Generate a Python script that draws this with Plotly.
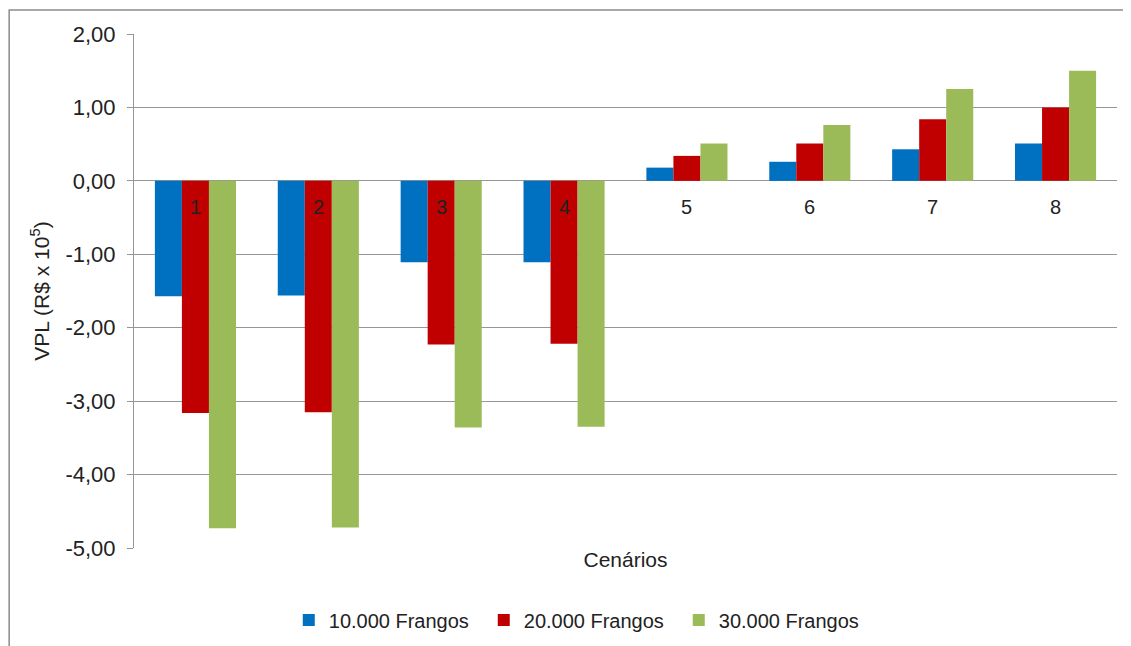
import plotly.graph_objects as go

categories = ["1", "2", "3", "4", "5", "6", "7", "8"]
series_names = ["10.000 Frangos", "20.000 Frangos", "30.000 Frangos"]
v10 = [-1.57, -1.56, -1.11, -1.11, 0.18, 0.26, 0.43, 0.51]
v20 = [-3.16, -3.15, -2.23, -2.22, 0.34, 0.51, 0.84, 1.00]
v30 = [-4.73, -4.72, -3.36, -3.35, 0.51, 0.76, 1.25, 1.50]
colors = ["#0070C0", "#C00000", "#9BBB59"]
y_ticks = [2, 1, 0, -1, -2, -3, -4, -5]
y_ticktext = [f"{v:.2f}".replace(".", ",") for v in y_ticks]

fig = go.Figure()
for name, vals, c in zip(series_names, [v10, v20, v30], colors):
    fig.add_trace(go.Bar(x=categories, y=vals, name=name, marker_color=c,
                         marker_line_width=0))

for i, cat in enumerate(categories):
    fig.add_annotation(x=i, y=0, text=cat, showarrow=False, yshift=-26,
                       font=dict(size=20, color="#222"))

FONT = "Liberation Sans, Arial, sans-serif"
fig.update_layout(
    width=1131, height=646,
    margin=dict(l=126, r=22, t=26, b=106),
    paper_bgcolor="white", plot_bgcolor="white",
    barmode="group", bargap=0.34, bargroupgap=0,
    font=dict(family=FONT, size=20, color="#222"),
    showlegend=True,
    legend=dict(orientation="h", x=0.455, xanchor="center", y=-0.14, yanchor="middle",
                font=dict(size=20), traceorder="normal", entrywidth=150),
    xaxis=dict(type="category", showticklabels=False, showgrid=False, ticks="",
               title=dict(text="Cenários", standoff=4, font=dict(size=21))),
    yaxis=dict(range=[-5, 2], tickvals=y_ticks, ticktext=y_ticktext,
               showgrid=True, gridcolor="#969696", gridwidth=1,
               zeroline=True, zerolinecolor="#969696", zerolinewidth=1,
               showline=True, linecolor="#969696", linewidth=1,
               ticks="outside", ticklen=6, tickcolor="#969696",
               ticklabelstandoff=7,
               tickfont=dict(size=22),
               title=dict(text="VPL (R$ x 10<sup>5</sup>)", standoff=10, font=dict(size=21))),
)

fig.add_shape(type="rect", xref="paper", yref="paper",
              x0=-0.127, x1=1.0102, y0=-0.3, y1=1.0467,
              line=dict(color="#8c8c8c", width=1.5), fillcolor="rgba(0,0,0,0)")

fig.write_html("out.html")
